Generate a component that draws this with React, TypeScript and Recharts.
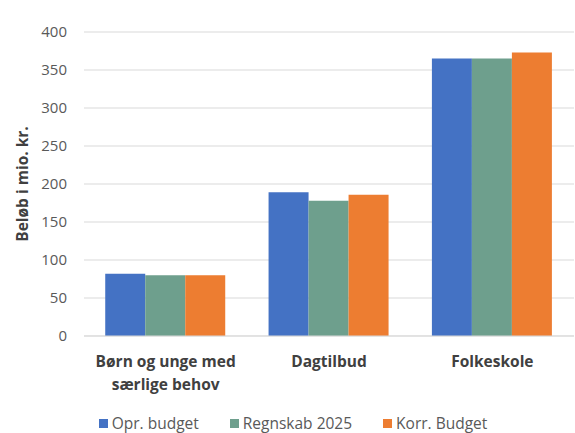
import React from 'react'
import { BarChart, Bar, XAxis, YAxis, CartesianGrid, Legend, Label } from 'recharts'

const categories = ['Børn og unge med særlige behov', 'Dagtilbud', 'Folkeskole']
const oprBudget = [82, 189, 365]
const regnskab2025 = [80, 178, 365]
const korrBudget = [80, 186, 373]
const yTicks = [0, 50, 100, 150, 200, 250, 300, 350, 400]

const series = [
  { key: 'opr', name: 'Opr. budget', color: '#4472C4' },
  { key: 'regn', name: 'Regnskab 2025', color: '#6E9F8D' },
  { key: 'korr', name: 'Korr. Budget', color: '#ED7D31' },
]

const data = categories.map((name, i) => ({
  name,
  opr: oprBudget[i],
  regn: regnskab2025[i],
  korr: korrBudget[i],
}))

const FONT = '"Open Sans", "Noto Sans", sans-serif'

// splitter lange kategorinavne i to linjer
const wrapLabel = (text: string) => {
  if (text.length < 18) return [text]
  const words = text.split(' ')
  const lines: string[] = []
  let cur = ''
  words.forEach((w) => {
    if ((cur + ' ' + w).trim().length > 17) {
      lines.push(cur)
      cur = w
    } else {
      cur = (cur + ' ' + w).trim()
    }
  })
  if (cur) lines.push(cur)
  return lines
}

function CategoryTick(props: any) {
  const { x, y, payload } = props
  const lines = wrapLabel(String(payload.value))
  return (
    <text x={x} y={y} textAnchor="middle" fill="#404040" fontSize={15.5} fontWeight={700} fontFamily={FONT}>
      {lines.map((l, i) => (
        <tspan key={i} x={x} dy={23}>{l}</tspan>
      ))}
    </text>
  )
}

// legende i fast rækkefølge
function LegendContent() {
  return (
    <div style={{ display: 'flex', justifyContent: 'center', gap: 31, height: 20, lineHeight: '20px', alignItems: 'center', fontFamily: FONT, fontSize: 15.5, color: '#595959', paddingLeft: 12 }}>
      {series.map((s) => (
        <div key={s.key} style={{ display: 'flex', alignItems: 'center', gap: 4 }}>
          <div style={{ width: 9, height: 9, background: s.color }}></div>
          <span>{s.name}</span>
        </div>
      ))}
    </div>
  )
}

export default function App() {
  return (
    <div style={{ position: 'absolute', left: 0, top: 0, background: '#fff' }}>
      <BarChart
        width={575}
        height={433}
        data={data}
        margin={{ top: 32, right: 1, left: 0, bottom: 0 }}
        barCategoryGap="13%"
        barGap={0}
      >
        <CartesianGrid vertical={false} stroke="#d9d9d9" />
        <XAxis
          dataKey="name"
          axisLine={{ stroke: '#d9d9d9' }}
          tickLine={false}
          interval={0}
          height={77}
          tick={<CategoryTick />}
        />
        <YAxis
          domain={[0, 400]}
          ticks={yTicks}
          axisLine={false}
          tickLine={false}
          tickSize={0}
          tickMargin={17}
          width={84}
          tick={{ fill: '#595959', fontSize: 15, fontFamily: FONT }}
        >
          <Label
            value="Beløb i mio. kr."
            angle={-90}
            position="insideLeft"
            offset={22}
            style={{ textAnchor: 'middle', fill: '#404040', fontSize: 15.5, fontWeight: 700, fontFamily: FONT }}
          />
        </YAxis>
        <Legend verticalAlign="bottom" height={20} content={<LegendContent />} />
        {series.map((s) => (
          <Bar key={s.key} dataKey={s.key} name={s.name} fill={s.color} isAnimationActive={false} />
        ))}
      </BarChart>
    </div>
  )
}
